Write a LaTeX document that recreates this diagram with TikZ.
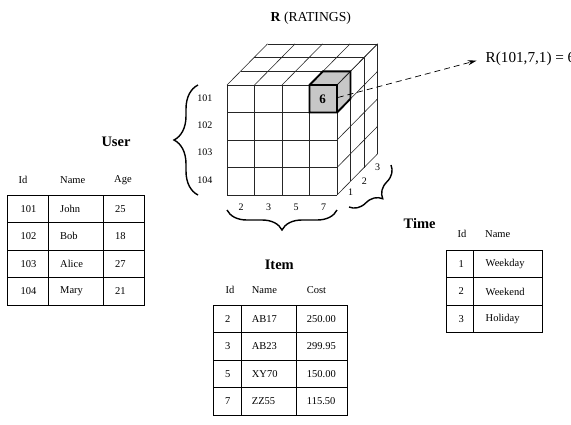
\documentclass[tikz,border=0pt]{standalone}
\usepackage{fontspec}
\setmainfont{Liberation Serif}
\usetikzlibrary{decorations.pathreplacing,arrows.meta,calc}
\begin{document}
\begin{tikzpicture}[x=1pt,y=-1pt,
  grid/.style={line width=0.6pt,black!85},
  cellfill/.style={fill=black!22},
  hilite/.style={line width=1.9pt,line join=miter},
  bracedeco/.style={decorate,line width=1.4pt,decoration={brace,amplitude=#1}},
  cubelab/.style={font=\fontsize{10}{12}\selectfont,inner sep=0pt},
  cell/.style={font=\fontsize{10.5}{12}\selectfont,inner sep=0pt,anchor=west},
  hdr/.style={font=\fontsize{10.5}{12}\selectfont,inner sep=0pt,anchor=west},
  ttl/.style={font=\fontsize{14.5}{16}\selectfont\bfseries,inner sep=0pt},
  tbl/.style={line width=0.9pt}]
\useasboundingbox (0,0) rectangle (571,424);

% ---------- title ----------
\node[font=\fontsize{13.7}{16}\selectfont,inner sep=0pt] (title) at (310.8,18.3) {\textbf{R} (RATINGS)};

% ---------- highlighted cell (front, top right) ----------
\fill[cellfill] (309.5,85) rectangle (337,112.5);
\fill[cellfill] (309.5,85) -- (337,85) -- (350.5,71.3) -- (323,71.3) -- cycle;
\fill[cellfill] (337,85) -- (350.5,71.3) -- (350.5,98.8) -- (337,112.5) -- cycle;

% ---------- cube grid ----------
% front face
\foreach \i in {0,...,4} {
  \draw[grid] (227+27.5*\i,85) -- (227+27.5*\i,195);
  \draw[grid] (227,85+27.5*\i) -- (337,85+27.5*\i);
}
% top face
\foreach \i in {0,...,4}
  \draw[grid] (227+27.5*\i,85) -- ++(40.5,-41.1);
\foreach \j in {1,2,3}
  \draw[grid] (227+13.5*\j,85-13.7*\j) -- ++(110,0);
% right face
\foreach \k in {0,...,4}
  \draw[grid] (337,85+27.5*\k) -- ++(40.5,-41.1);
\foreach \j in {1,2,3}
  \draw[grid] (337+13.5*\j,85-13.7*\j) -- ++(0,110);

% outline of the highlighted cell
\draw[line width=1.2pt] (309.5,85) rectangle (337,112.5);
\draw[hilite] (309.5,112.5) -- (309.5,85) -- (323,71.3) -- (350.5,71.3)
  -- (350.5,98.8) -- (337,112.5) -- cycle;
\node[font=\fontsize{13}{15}\selectfont\bfseries,inner sep=0pt] (six) at (322.5,99) {6};
\coordinate (ptr) at (337.8,97.5);

% ---------- axis labels on the cube ----------
\node[cubelab] (u101) at (204.8,98.3) {101};
\node[cubelab] (u102) at (204.8,125) {102};
\node[cubelab] (u103) at (204.8,152.3) {103};
\node[cubelab] (u104) at (204.8,180) {104};
\node[cubelab] (i2) at (241,207.3) {2};
\node[cubelab] (i3) at (268.5,207.3) {3};
\node[cubelab] (i5) at (296,207.3) {5};
\node[cubelab] (i7) at (323.5,207.3) {7};
\node[cubelab] (t1) at (350.7,191.7) {1};
\node[cubelab] (t2) at (364.3,181) {2};
\node[cubelab] (t3) at (377.7,167.7) {3};

% ---------- braces ----------
\coordinate (lbA) at (198,195);
\coordinate (lbB) at (198,85);
\draw[bracedeco=24pt] (lbA) -- (lbB);
\coordinate (bbA) at (337,210);
\coordinate (bbB) at (227,210);
\draw[bracedeco=20pt] (bbA) -- (bbB);
\coordinate (rbA) at (391,165);
\coordinate (rbB) at (349,207);
\draw[bracedeco=18pt] (rbA) -- (rbB);

% ---------- pointer to the rating ----------
\node[font=\fontsize{15.2}{17}\selectfont,inner sep=3pt,anchor=west] (rval) at (482.5,59) {R(101,7,1) = 6};
\draw[dashed,dash pattern=on 6pt off 4pt,line width=0.7pt,
  -{Stealth[length=9pt,width=5pt]},shorten >=6pt] (ptr) -- (rval.west);

% ---------- User table ----------
\node[ttl] (user) at (116,141.7) {User};
\node[hdr] (uh1) at (18.5,180) {Id};
\node[hdr] (uh2) at (60,180) {Name};
\node[hdr] (uh3) at (114,180) {Age};
\draw[tbl] (7.3,195) rectangle (144,305);
\foreach \y in {222.5,250,277.5} \draw[tbl] (7.3,\y) -- (144,\y);
\foreach \x in {48.3,103.3} \draw[tbl] (\x,195) -- (\x,305);
\foreach \r/\id/\nm/\ag [count=\n] in {208.6/101/John/25,236/102/Bob/18,263.6/103/Alice/27,291/104/Mary/21} {
  \node[cell] (ua\n) at (20.5,\r) {\id};
  \node[cell] (ub\n) at (60,\r) {\nm};
  \node[cell] (uc\n) at (115,\r) {\ag};
}

% ---------- Item table ----------
\node[ttl] (item) at (279.3,265) {Item};
\node[hdr] (ih1) at (225.5,290) {Id};
\node[hdr] (ih2) at (251.7,290) {Name};
\node[hdr] (ih3) at (306.7,290) {Cost};
\draw[tbl] (213.3,305) rectangle (347.7,415);
\foreach \y in {332.5,360,387.5} \draw[tbl] (213.3,\y) -- (347.7,\y);
\foreach \x in {241,296} \draw[tbl] (\x,305) -- (\x,415);
\foreach \r/\id/\nm/\co [count=\n] in {318.7/2/AB17/250.00,346.2/3/AB23/299.95,373.7/5/XY70/150.00,401.2/7/ZZ55/115.50} {
  \node[cell] (ia\n) at (225,\r) {\id};
  \node[cell] (ib\n) at (251.7,\r) {\nm};
  \node[cell] (ic\n) at (306.7,\r) {\co};
}

% ---------- Time table ----------
\node[ttl] (time) at (419.7,224) {Time};
\node[hdr] (th1) at (457.3,234) {Id};
\node[hdr] (th2) at (485,234) {Name};
\draw[tbl] (446.7,250.7) rectangle (542.3,332.3);
\foreach \y in {277.9,305.1} \draw[tbl] (446.7,\y) -- (542.3,\y);
\draw[tbl] (473.3,250.7) -- (473.3,332.3);
\foreach \r/\id/\nm [count=\n] in {264.3/1/Weekday,291.5/2/Weekend,318.7/3/Holiday} {
  \node[cell] (ta\n) at (458.5,\r) {\id};
  \node[cell] (tb\n) at (485.5,\r) {\nm};
}
\end{tikzpicture}
\end{document}
